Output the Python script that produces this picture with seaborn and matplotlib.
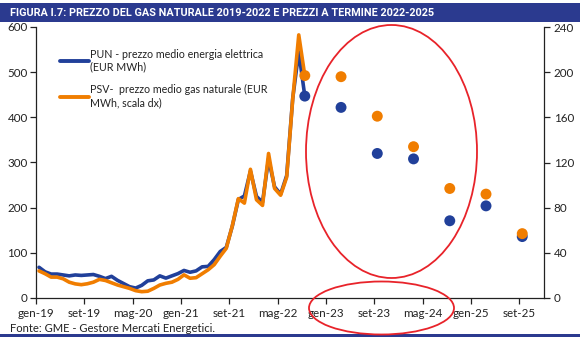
import matplotlib
matplotlib.use("Agg")
import matplotlib.pyplot as plt
from matplotlib.patches import Ellipse, Rectangle
from matplotlib.lines import Line2D
import seaborn as sns
import pandas as pd

# Monthly averages, gen-2019 .. ago-2022 (month index 0 = gen-19)
pun_monthly = [68, 58, 53, 53, 51, 49, 51, 50, 51, 52, 48, 43,
               48, 39, 32, 25, 22, 28, 38, 40, 49, 44, 49, 54,
               61, 57, 60, 69, 70, 85, 103, 112, 159, 218, 226, 281,
               225, 212, 308, 246, 230, 271, 442, 545]
psv_monthly = [24, 21.5, 18.5, 18.5, 17, 14, 12.5, 11.8, 12.6, 14, 16.5, 15.5,
               13.5, 11.5, 10, 8.5, 6.5, 5.6, 6, 8.5, 11.5, 13, 14, 16.5,
               20.5, 17.5, 18, 21.5, 25, 29.5, 37, 44, 64, 88, 84, 114,
               87, 82, 128, 97, 91, 107, 176, 233]

# Forward prices (set-22 .. set-25, every six months)
forward_month = [44, 50, 56, 62, 68, 74, 80]
pun_forward = [447, 422, 320, 308, 171, 204, 136]
psv_forward = [197, 196, 161, 134, 97, 92, 57]

tick_months = [0, 8, 16, 24, 32, 40, 48, 56, 64, 72, 80]
tick_labels = ["gen-19", "set-19", "mag-20", "gen-21", "set-21", "mag-22",
               "gen-23", "set-23", "mag-24", "gen-25", "set-25"]

label_pun = "PUN - prezzo medio energia elettrica\n(EUR MWh)"
label_psv = "PSV-  prezzo medio gas naturale (EUR\nMWh, scala dx)"
title = "FIGURA I.7: PREZZO DEL GAS NATURALE 2019-2022 E PREZZI A TERMINE 2022-2025"
source = "Fonte: GME - Gestore Mercati Energetici."

BLUE = "#21409a"
ORANGE = "#f07d00"
NAVY = "#2b3a8f"
RED = "#e8232a"
INK = "#222222"

sns.set_theme(style="white")
plt.rcParams["font.family"] = ["Lato", "DejaVu Sans"]

# points sit at mid-month
hist = pd.DataFrame({
    "m": [i + 0.5 for i in range(len(pun_monthly))] + [forward_month[0] + 0.5],
    "pun": pun_monthly + [pun_forward[0]],
    "psv": psv_monthly + [psv_forward[0]],
})
fwd = pd.DataFrame({
    "m": [m + 0.5 for m in forward_month],
    "pun": pun_forward,
    "psv": psv_forward,
})

fig = plt.figure(figsize=(5.8, 3.38), dpi=100)
ax = fig.add_axes([36 / 580, 1 - 298 / 338, (544 - 36) / 580, (298 - 27) / 338])
ax2 = ax.twinx()

sns.lineplot(data=hist, x="m", y="pun", ax=ax, color=BLUE, lw=2.6, legend=False)
sns.scatterplot(data=fwd, x="m", y="pun", ax=ax, color=BLUE, s=62,
                edgecolor="none", legend=False, zorder=5)
sns.lineplot(data=hist, x="m", y="psv", ax=ax2, color=ORANGE, lw=2.6, legend=False)
sns.scatterplot(data=fwd, x="m", y="psv", ax=ax2, color=ORANGE, s=62,
                edgecolor="none", legend=False, zorder=5)

ax.set_xlim(0, 84.1)
ax.set_ylim(0, 600)
ax2.set_ylim(0, 240)
ax.set_yticks(range(0, 601, 100))
ax2.set_yticks(range(0, 241, 40))
ax.set_xticks(tick_months)
ax.set_xticklabels(tick_labels)
for a in (ax, ax2):
    a.set_xlabel("")
    a.set_ylabel("")
    a.grid(False)
    a.spines["top"].set_visible(False)
    for side in ("left", "right", "bottom"):
        a.spines[side].set_color(INK)
        a.spines[side].set_linewidth(0.9)
ax.spines["right"].set_visible(False)
ax2.spines["left"].set_visible(False)
ax2.spines["bottom"].set_visible(False)

ax.tick_params(axis="y", which="both", left=True, direction="out", length=4,
               width=0.9, color=INK, labelsize=8.4, pad=2, labelcolor=INK)
ax.tick_params(axis="x", which="both", bottom=True, direction="out", length=4,
               width=0.9, color=INK, labelsize=8.4, pad=3, labelcolor=INK)
ax2.tick_params(axis="y", which="both", right=True, direction="out", length=4,
                width=0.9, color=INK, labelsize=8.4, pad=3, labelcolor=INK)

handles = [Line2D([], [], color=BLUE, lw=2.8), Line2D([], [], color=ORANGE, lw=2.8)]
ax.legend(handles, [label_pun, label_psv], loc="upper left",
          bbox_to_anchor=(0.028, 0.955), frameon=False, fontsize=7.7,
          handlelength=2.7, handletextpad=0.1, labelspacing=1.1,
          labelcolor=INK)

# title bar and footer rule
fig.patches.append(Rectangle((0, 1 - 22 / 338), 1, 19 / 338, transform=fig.transFigure,
                             facecolor=NAVY, edgecolor="none", zorder=0))
fig.patches.append(Rectangle((0, 1 - 337 / 338), 1, 3 / 338, transform=fig.transFigure,
                             facecolor=NAVY, edgecolor="none", zorder=0))
fig.text(10 / 580, 1 - 12.5 / 338, title, color="white", fontsize=7.85,
         fontweight="bold", fontstretch="condensed", va="center", ha="left",
         family=["Roboto", "DejaVu Sans"])
fig.text(10 / 580, 1 - 328.5 / 338, source, color=INK, fontsize=8.1,
         va="center", ha="left")

# highlight of the forward-price area
fig.patches.append(Ellipse((391.5 / 580, 1 - 151.5 / 338), 171 / 580, 253 / 338,
                           transform=fig.transFigure, facecolor="none",
                           edgecolor=RED, lw=1.3, zorder=10))
fig.patches.append(Ellipse((381.5 / 580, 1 - 308 / 338), 145 / 580, 53 / 338,
                           transform=fig.transFigure, facecolor="none",
                           edgecolor=RED, lw=1.3, zorder=10))

fig.savefig("out.png", dpi=100)
